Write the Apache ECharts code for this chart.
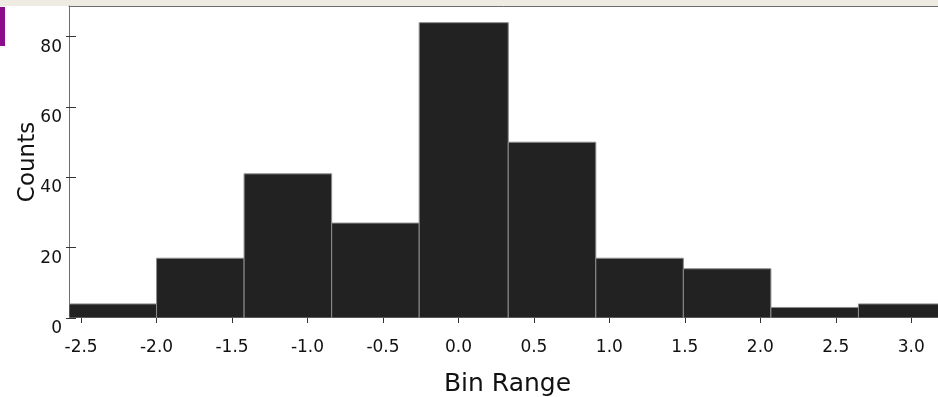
<!DOCTYPE html>
<html>
<head>
<meta charset="utf-8">
<script src="https://cdn.jsdelivr.net/npm/echarts@6/dist/echarts.min.js"></script>
<style>
html,body{margin:0;padding:0;background:#fff;}
#chart{width:938px;height:397px;}
</style>
</head>
<body>
<div id="chart"></div>
<script>
// Histogram data
const binEdges = [-2.58, -2.0, -1.42, -0.84, -0.26, 0.33, 0.91, 1.49, 2.07, 2.65, 3.23];
const counts = [4, 17, 41, 27, 84, 50, 17, 14, 3, 4];
const xTicks = [-2.5, -2.0, -1.5, -1.0, -0.5, 0.0, 0.5, 1.0, 1.5, 2.0, 2.5, 3.0];
const yTicks = [0, 20, 40, 60, 80];
const xName = 'Bin Range';
const yName = 'Counts';

const bins = counts.map((c, i) => [binEdges[i], binEdges[i + 1], c]);

const chart = echarts.init(document.getElementById('chart'), null, {renderer: 'canvas'});
const X_MIN = -2.58, X_MAX = 3.23, Y_MAX = 88.74;

chart.setOption({
  animation: false,
  backgroundColor: '#ffffff',
  graphic: [
    {type: 'rect', left: 0, top: 0, shape: {width: 938, height: 6}, style: {fill: '#eeebe3'}, z: 0},
    {type: 'rect', left: 0, top: 7, shape: {width: 5, height: 39}, style: {fill: '#8b0d8b'}, z: 0}
  ],
  grid: {left: 69, top: 6, width: 877, height: 312, containLabel: false, outerBoundsMode: 'none'},
  xAxis: [
    {
      type: 'value', min: X_MIN, max: X_MAX, position: 'bottom',
      name: xName, nameLocation: 'middle', nameGap: 54, nameMoveOverlap: false,
      nameTextStyle: {fontFamily: 'DejaVu Sans', fontSize: 25, color: '#111'},
      axisLine: {show: false, onZero: false},
      axisTick: {show: true, inside: false, length: 5, customValues: xTicks, lineStyle: {color: '#333', width: 1}},
      axisLabel: {show: true, customValues: xTicks, margin: 21, fontFamily: 'DejaVu Sans', fontSize: 17, color: '#111',
        formatter: v => Number(v).toFixed(1)},
      splitLine: {show: false}
    },
    {
      type: 'value', min: X_MIN, max: X_MAX, position: 'top',
      axisLine: {show: true, onZero: false, lineStyle: {color: '#6e6e6e', width: 1}},
      axisTick: {show: false}, axisLabel: {show: false}, splitLine: {show: false}
    }
  ],
  yAxis: [
    {
      type: 'value', min: 0, max: Y_MAX, position: 'left',
      name: yName, nameLocation: 'middle', nameGap: 29, nameMoveOverlap: false,
      nameTextStyle: {fontFamily: 'DejaVu Sans', fontSize: 23, color: '#111'},
      axisLine: {show: true, onZero: false, lineStyle: {color: '#6e6e6e', width: 1}},
      axisTick: {show: true, inside: true, length: 7, customValues: yTicks, lineStyle: {color: '#333'}},
      axisLabel: {show: true, customValues: yTicks, margin: 7, fontFamily: 'DejaVu Sans', fontSize: 17, color: '#111',
        verticalAlign: 'top', padding: [2, 0, 0, 0]},
      splitLine: {show: false}
    },
    {
      type: 'value', min: 0, max: Y_MAX, position: 'left',
      axisLine: {show: false, onZero: false},
      axisTick: {show: true, inside: false, length: 3, customValues: yTicks, lineStyle: {color: '#333'}},
      axisLabel: {show: false}, splitLine: {show: false}
    }
  ],
  series: [{
    type: 'custom',
    xAxisIndex: 0, yAxisIndex: 0,
    clip: true,
    data: bins,
    encode: {x: [0, 1], y: 2},
    renderItem: function (params, api) {
      const p0 = api.coord([api.value(0), api.value(2)]);
      const p1 = api.coord([api.value(1), 0]);
      return {
        type: 'rect',
        shape: {x: p0[0], y: p0[1], width: p1[0] - p0[0], height: p1[1] - p0[1]},
        style: {fill: '#222222', stroke: '#8c8c8c', lineWidth: 1}
      };
    }
  }]
});
</script>
</body>
</html>
